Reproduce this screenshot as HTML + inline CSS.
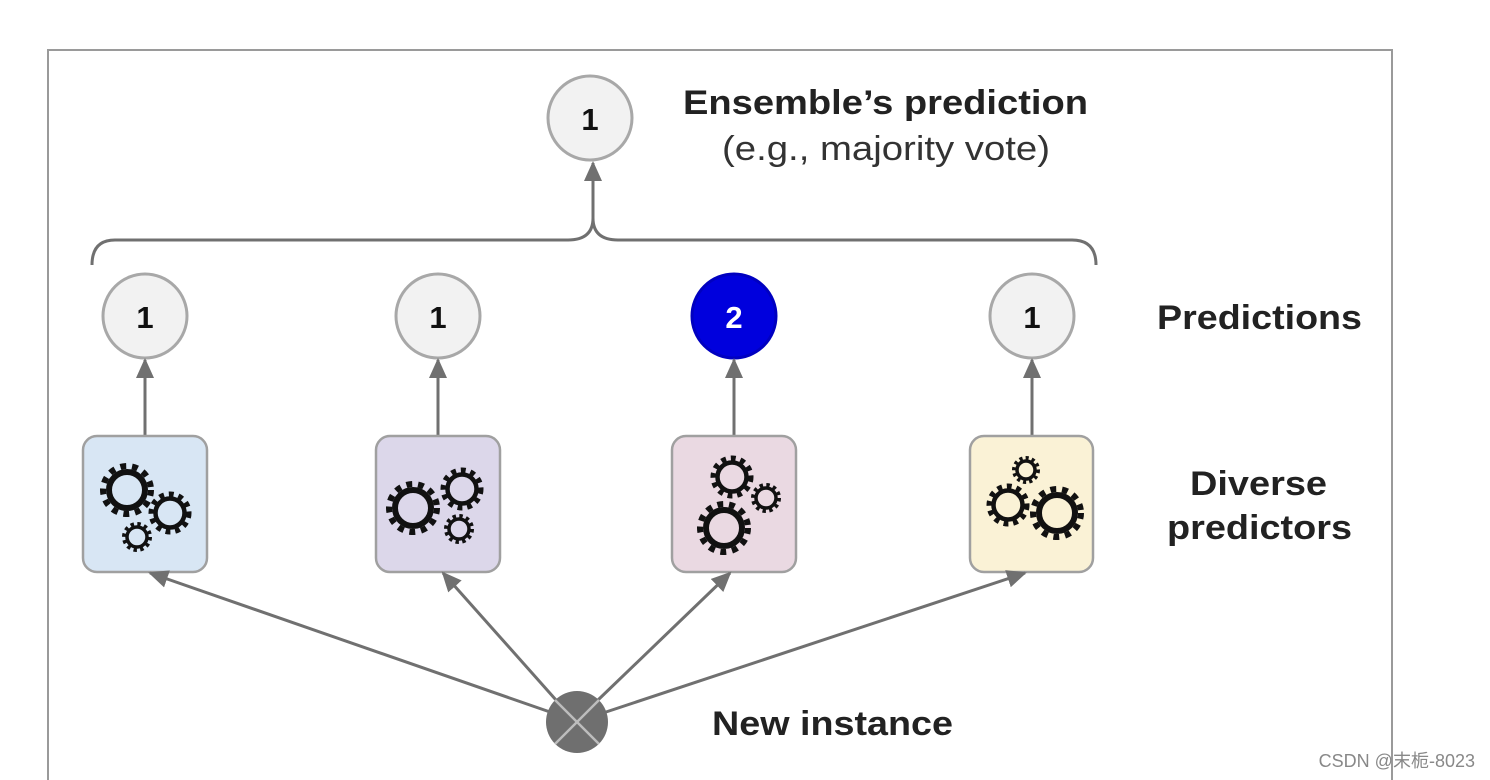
<!DOCTYPE html>
<html><head><meta charset="utf-8"><style>
html,body{margin:0;padding:0;background:#fff;}
svg{display:block;}
text{font-family:"Liberation Sans",Arial,sans-serif;}
</style></head><body>
<svg width="1490" height="780" viewBox="0 0 1490 780" xmlns="http://www.w3.org/2000/svg">
<defs>
<marker id="ah2" markerWidth="20" markerHeight="18" refX="18" refY="9" orient="auto" markerUnits="userSpaceOnUse">
<path d="M0,0 L20,9 L0,18 z" fill="#707070"/>
</marker>
</defs>
<rect x="48" y="50" width="1344" height="740" fill="none" stroke="#9a9a9a" stroke-width="2"/>

<path d="M92,265 Q92,240 115,240 L568,240 Q593,240 593,218 Q593,240 618,240 L1072,240 Q1096,240 1096,265" fill="none" stroke="#707070" stroke-width="3"/>
<line x1="593" y1="218" x2="593" y2="163" stroke="#707070" stroke-width="3" marker-end="url(#ah2)"/>

<circle cx="590" cy="118" r="42" fill="#f2f2f2" stroke="#a8a8a8" stroke-width="3"/>
<text x="590" y="130" font-size="31" font-weight="bold" text-anchor="middle" fill="#111">1</text>
<text x="683" y="114" font-size="34" font-weight="bold" fill="#222" textLength="405" lengthAdjust="spacingAndGlyphs">Ensemble’s prediction</text>
<text x="722" y="160" font-size="34" fill="#333" textLength="328" lengthAdjust="spacingAndGlyphs">(e.g., majority vote)</text>

<g font-size="31" font-weight="bold" text-anchor="middle">
<circle cx="145" cy="316" r="42" fill="#f2f2f2" stroke="#a8a8a8" stroke-width="3"/><text x="145" y="328" fill="#111">1</text>
<circle cx="438" cy="316" r="42" fill="#f2f2f2" stroke="#a8a8a8" stroke-width="3"/><text x="438" y="328" fill="#111">1</text>
<circle cx="734" cy="316" r="42" fill="#0000dd" stroke="#0000c0" stroke-width="3"/><text x="734" y="328" fill="#fff">2</text>
<circle cx="1032" cy="316" r="42" fill="#f2f2f2" stroke="#a8a8a8" stroke-width="3"/><text x="1032" y="328" fill="#111">1</text>
</g>
<text x="1157" y="329" font-size="34" font-weight="bold" fill="#222" textLength="205" lengthAdjust="spacingAndGlyphs">Predictions</text>
<text x="1190" y="495" font-size="34" font-weight="bold" fill="#222" textLength="137" lengthAdjust="spacingAndGlyphs">Diverse</text>
<text x="1167" y="539" font-size="34" font-weight="bold" fill="#222" textLength="185" lengthAdjust="spacingAndGlyphs">predictors</text>

<g stroke="#707070" stroke-width="3">
<line x1="145" y1="436" x2="145" y2="360" marker-end="url(#ah2)"/>
<line x1="438" y1="436" x2="438" y2="360" marker-end="url(#ah2)"/>
<line x1="734" y1="436" x2="734" y2="360" marker-end="url(#ah2)"/>
<line x1="1032" y1="436" x2="1032" y2="360" marker-end="url(#ah2)"/>
</g>

<rect x="83" y="436" width="124" height="136" rx="14" fill="#d8e6f4" stroke="#a0a0a0" stroke-width="2.5"/>
<rect x="376" y="436" width="124" height="136" rx="14" fill="#dcd7ea" stroke="#a0a0a0" stroke-width="2.5"/>
<rect x="672" y="436" width="124" height="136" rx="14" fill="#ead9e2" stroke="#a0a0a0" stroke-width="2.5"/>
<rect x="970" y="436" width="123" height="136" rx="14" fill="#faf2d6" stroke="#a0a0a0" stroke-width="2.5"/>

<g fill="none" stroke="#111">
<circle cx="127" cy="490" r="24" stroke-width="6" stroke-dasharray="5.9 5.9"/><circle cx="127" cy="490" r="18" stroke-width="6"/>
<circle cx="170" cy="513" r="19" stroke-width="5" stroke-dasharray="4.9 4.9"/><circle cx="170" cy="513" r="14.5" stroke-width="4.5"/>
<circle cx="137" cy="537" r="13" stroke-width="4" stroke-dasharray="3.4 3.4"/><circle cx="137" cy="537" r="10" stroke-width="3.5"/>
<circle cx="413" cy="508" r="24" stroke-width="6" stroke-dasharray="5.9 5.9"/><circle cx="413" cy="508" r="18" stroke-width="6"/>
<circle cx="462" cy="489" r="19" stroke-width="5" stroke-dasharray="4.9 4.9"/><circle cx="462" cy="489" r="14.5" stroke-width="4.5"/>
<circle cx="459" cy="529" r="13" stroke-width="4" stroke-dasharray="3.4 3.4"/><circle cx="459" cy="529" r="10" stroke-width="3.5"/>
<circle cx="732" cy="477" r="19" stroke-width="5" stroke-dasharray="4.9 4.9"/><circle cx="732" cy="477" r="14.5" stroke-width="4.5"/>
<circle cx="766" cy="498" r="13" stroke-width="4" stroke-dasharray="3.4 3.4"/><circle cx="766" cy="498" r="10" stroke-width="3.5"/>
<circle cx="724" cy="528" r="24" stroke-width="6" stroke-dasharray="5.9 5.9"/><circle cx="724" cy="528" r="18" stroke-width="6"/>
<circle cx="1026" cy="470" r="12" stroke-width="4" stroke-dasharray="3.1 3.1"/><circle cx="1026" cy="470" r="9" stroke-width="3.5"/>
<circle cx="1008" cy="505" r="19" stroke-width="5" stroke-dasharray="4.9 4.9"/><circle cx="1008" cy="505" r="14.5" stroke-width="4.5"/>
<circle cx="1057" cy="513" r="24" stroke-width="6" stroke-dasharray="5.9 5.9"/><circle cx="1057" cy="513" r="18" stroke-width="6"/>
</g>

<g stroke="#707070" stroke-width="3">
<line x1="550" y1="712" x2="150" y2="573" marker-end="url(#ah2)"/>
<line x1="556" y1="700" x2="443" y2="573" marker-end="url(#ah2)"/>
<line x1="598" y1="700" x2="730" y2="573" marker-end="url(#ah2)"/>
<line x1="606" y1="712" x2="1025" y2="573" marker-end="url(#ah2)"/>
</g>
<circle cx="577" cy="722" r="31" fill="#6f6f6f"/>
<line x1="555" y1="700" x2="599" y2="744" stroke="#bdbdbd" stroke-width="2.5"/>
<line x1="599" y1="700" x2="555" y2="744" stroke="#bdbdbd" stroke-width="2.5"/>
<text x="712" y="735" font-size="34" font-weight="bold" fill="#222" textLength="241" lengthAdjust="spacingAndGlyphs">New instance</text>

<text x="1475" y="767" font-size="18" text-anchor="end" fill="#888" font-family="'Liberation Sans','Noto Sans CJK SC',sans-serif">CSDN @末栀-8023</text>
</svg>
</body></html>
